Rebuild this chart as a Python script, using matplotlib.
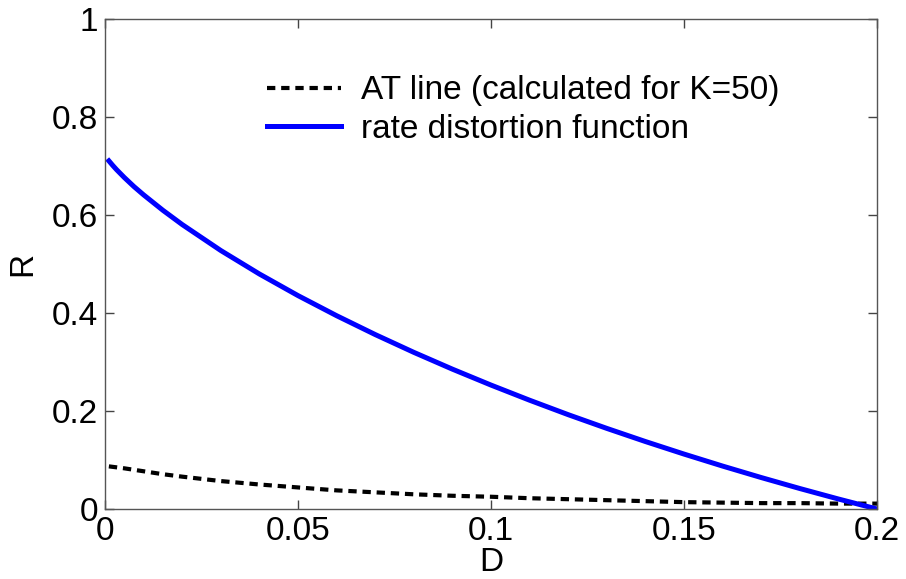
import numpy as np
import matplotlib.pyplot as plt

plt.rcParams['font.family'] = ['Liberation Sans', 'DejaVu Sans']

# distortion values (x axis)
D = [0.001, 0.002, 0.003, 0.005, 0.0075, 0.01, 0.015, 0.02, 0.03, 0.04, 0.05,
     0.06, 0.07, 0.08, 0.09, 0.10, 0.11, 0.12, 0.13, 0.14, 0.15, 0.16, 0.17,
     0.18, 0.19, 0.20]

# rate distortion function (blue)
R_rd = [0.7105, 0.7012, 0.6925, 0.6765, 0.6580, 0.6411, 0.6096, 0.5805, 0.5275,
        0.4796, 0.4355, 0.3945, 0.3560, 0.3197, 0.2854, 0.2529, 0.2220, 0.1925,
        0.1645, 0.1377, 0.1121, 0.0876, 0.0642, 0.0418, 0.0204, 0.0]

# AT line for K=50 (dashed)
R_at = [0.087, 0.086, 0.085, 0.083, 0.080, 0.077, 0.071, 0.066, 0.057, 0.050,
        0.044, 0.038, 0.034, 0.030, 0.027, 0.025, 0.022, 0.020, 0.018, 0.016,
        0.014, 0.013, 0.012, 0.012, 0.011, 0.011]

xticks = [0, 0.05, 0.1, 0.15, 0.2]
xticklabels = ['0', '0.05', '0.1', '0.15', '0.2']
yticks = [0, 0.2, 0.4, 0.6, 0.8, 1]
yticklabels = ['0', '0.2', '0.4', '0.6', '0.8', '1']

fig = plt.figure(figsize=(9.06, 5.79), dpi=100)
ax = fig.add_axes([0.1159, 0.1209, 0.968 - 0.1159, 0.9672 - 0.1209])

ax.plot(D, R_at, color='black', lw=3, dashes=(2.0, 1.4),
        label='AT line (calculated for K=50)')
ax.plot(D, R_rd, color=(0, 0, 1), lw=3.6, label='rate distortion function')

ax.set_xlim(0, 0.2)
ax.set_ylim(0, 1)
ax.set_xticks(xticks)
ax.set_xticklabels(xticklabels)
ax.set_yticks(yticks)
ax.set_yticklabels(yticklabels)

ax.tick_params(direction='in', length=6.5, width=1, top=True, right=True,
               labelsize=24, pad=5, color='#444444')
for s in ax.spines.values():
    s.set_color('#555555')
    s.set_linewidth(1)

ax.set_xlabel('D', fontsize=24, labelpad=0)
ax.set_ylabel('R', fontsize=24, labelpad=10)

ax.legend(loc='upper left', bbox_to_anchor=(0.193, 0.912), frameon=False,
          fontsize=24, handlelength=2.2, handletextpad=0.6,
          labelspacing=0.22, borderaxespad=0)

fig.savefig('out.png', dpi=100)
